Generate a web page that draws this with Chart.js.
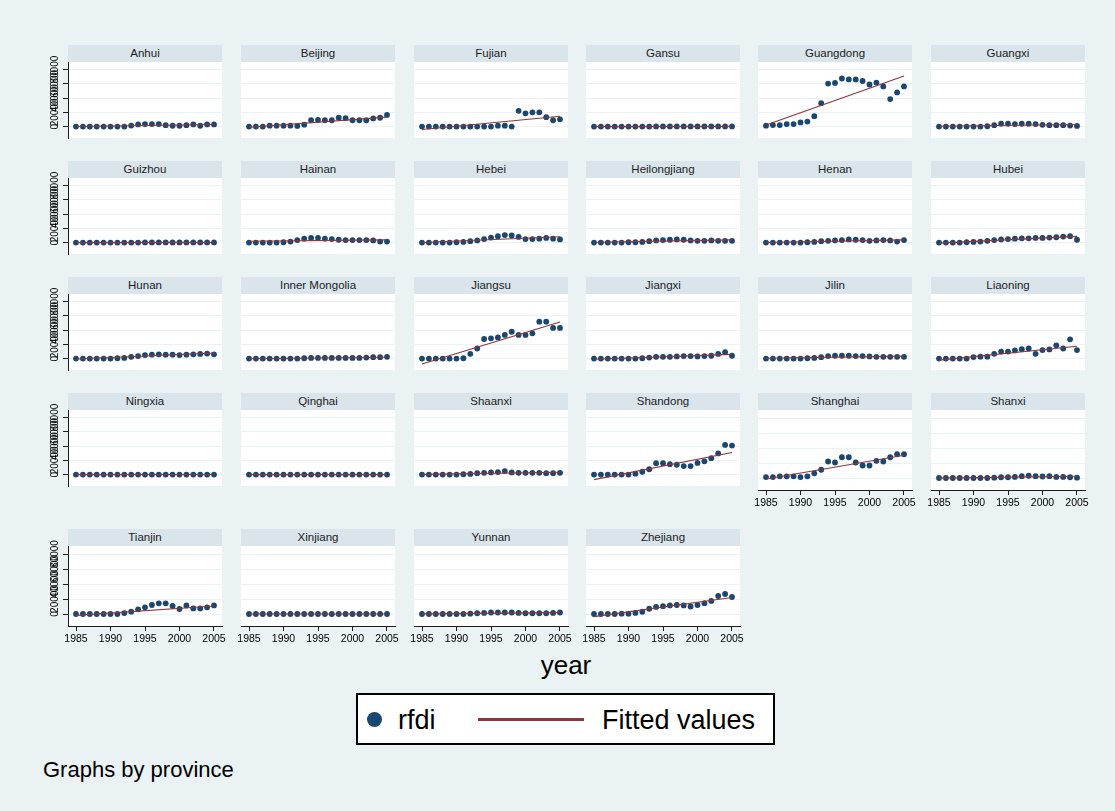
<!DOCTYPE html>
<html>
<head>
<meta charset="utf-8">
<title>rfdi by province, 1985-2005</title>
<script src="https://cdn.jsdelivr.net/npm/chart.js@4/dist/chart.umd.min.js"></script>
<style>
  html, body { margin: 0; padding: 0; }
  body {
    width: 1115px; height: 811px; position: relative; overflow: hidden;
    background: #eaf2f3;
    font-family: "Liberation Sans", Arial, sans-serif;
  }
  .strip {
    position: absolute; height: 17px; background: #d9e5eb; color: #1c1c1c;
    font-size: 11.5px; line-height: 17px; text-align: center; white-space: nowrap;
  }
  canvas { position: absolute; }
  #xtitle { position: absolute; left: 466px; width: 200px; top: 652px; text-align: center;
            font-size: 26px; line-height: 26px; color: #000; }
  #legend { position: absolute; left: 356px; top: 693px; width: 419px; height: 52px;
            box-sizing: border-box; border: 2px solid #000; background: #fff; }
  .lg-dot { position: absolute; left: 367px; top: 712px; width: 15px; height: 15px;
            border-radius: 50%; background: #1a476f; }
  .lg-line { position: absolute; left: 478px; top: 718px; width: 106px; height: 2.5px; background: #90353b; }
  .lg-text { position: absolute; top: 707px; font-size: 27px; line-height: 27px; color: #000; white-space: nowrap; }
  #note { position: absolute; left: 43px; top: 759px; font-size: 22px; line-height: 22px; color: #000; }
</style>
</head>
<body>

<div id="xtitle">year</div>
<div id="legend"></div>
<div class="lg-dot"></div>
<div class="lg-text" style="left:398px">rfdi</div>
<div class="lg-line"></div>
<div class="lg-text" style="left:602px">Fitted values</div>
<div id="note">Graphs by province</div>

<script>
// ---- data -------------------------------------------------------------
const years = [1985, 1986, 1987, 1988, 1989, 1990, 1991, 1992, 1993, 1994, 1995,
               1996, 1997, 1998, 1999, 2000, 2001, 2002, 2003, 2004, 2005];

const provinces = ["Anhui", "Beijing", "Fujian", "Gansu", "Guangdong", "Guangxi",
                   "Guizhou", "Hainan", "Hebei", "Heilongjiang", "Henan", "Hubei",
                   "Hunan", "Inner Mongolia", "Jiangsu", "Jiangxi", "Jilin", "Liaoning",
                   "Ningxia", "Qinghai", "Shaanxi", "Shandong", "Shanghai", "Shanxi",
                   "Tianjin", "Xinjiang", "Yunnan", "Zhejiang"];

const rfdiAnhui        = [0, 0, 0, 0, 0, 0, 0, 0, 1500, 3000, 3500, 3500, 3500, 2000, 1200, 1200, 2000, 3000, 1200, 3000, 3000];
const rfdiBeijing      = [0, 0, 0, 1300, 1300, 1300, 1300, 900, 2700, 8900, 9300, 8900, 8900, 12400, 11900, 8900, 8900, 8900, 11500, 12400, 16400];
const rfdiFujian       = [0, 0, 0, 0, 0, 0, 0, 0, 0, 0, 0, 1300, 1300, 0, 22200, 18600, 20000, 20000, 13300, 8900, 10200];
const rfdiGansu        = [0, 0, 0, 0, 0, 0, 0, 0, 0, 200, 300, 300, 300, 300, 200, 200, 200, 200, 200, 200, 300];
const rfdiGuangdong    = [1300, 2200, 2200, 3500, 3500, 5800, 7100, 14700, 32900, 60400, 61300, 67500, 66200, 66200, 64000, 59100, 61800, 56400, 38600, 48000, 56400];
const rfdiGuangxi      = [0, 0, 0, 0, 0, 0, 0, 500, 2000, 4000, 4000, 3500, 4000, 4000, 3500, 2500, 2000, 2000, 2000, 1500, 1000];
const rfdiGuizhou      = [0, 0, 0, 0, 0, 0, 0, 0, 0, 0, 200, 200, 200, 200, 200, 200, 200, 200, 200, 300, 300];
const rfdiHainan       = [0, 0, 0, 0, 0, 500, 1500, 3500, 5500, 6500, 6500, 5500, 5000, 4000, 3500, 3500, 3500, 3500, 3000, 1500, 1500];
const rfdiHebei        = [0, 0, 0, 0, 0, 500, 1000, 2000, 3000, 5000, 7000, 9000, 10500, 10000, 8000, 5000, 5000, 5500, 6500, 5500, 4500];
const rfdiHeilongjiang = [0, 0, 0, 0, 0, 500, 500, 1000, 2000, 3000, 3500, 4000, 4500, 4000, 3000, 2500, 2500, 3000, 2500, 2500, 2500];
const rfdiHenan        = [0, 0, 0, 0, 0, 0, 500, 1000, 2000, 2500, 3000, 3500, 4500, 4000, 3500, 2500, 3000, 3500, 3000, 1500, 3500];
const rfdiHubei        = [0, 0, 0, 0, 500, 1000, 1500, 2500, 3500, 4500, 5000, 5500, 6000, 6000, 6500, 6500, 7000, 7500, 8500, 9000, 4000];
const rfdiHunan        = [0, 0, 0, 0, 0, 0, 500, 1000, 2500, 3500, 5000, 5500, 6000, 5500, 5500, 5000, 5500, 6000, 6500, 7000, 6000];
const rfdiInnerMongolia= [0, 0, 0, 0, 0, 0, 0, 0, 500, 1000, 1000, 1000, 1000, 1000, 1000, 1000, 1000, 1500, 2000, 2000, 2500];
const rfdiJiangsu      = [0, 0, 0, 0, 0, 0, 500, 6700, 14200, 27500, 28400, 29700, 33300, 37700, 33300, 33300, 35500, 51900, 51900, 43100, 43100];
const rfdiJiangxi      = [0, 0, 0, 0, 0, 0, 0, 500, 1500, 2500, 2500, 2500, 3000, 3500, 3500, 3000, 3500, 4000, 6500, 9000, 4000];
const rfdiJilin        = [0, 0, 0, 0, 0, 0, 500, 1000, 2000, 3500, 4000, 4000, 4000, 3500, 3500, 3000, 2500, 2500, 2500, 2500, 2500];
const rfdiLiaoning     = [0, 0, 0, 0, 0, 2200, 2700, 2700, 6700, 9800, 9800, 11500, 13300, 14200, 6700, 12000, 12900, 18600, 14200, 27100, 12000];
const rfdiNingxia      = [0, 0, 0, 0, 0, 0, 0, 0, 0, 0, 0, 0, 0, 0, 0, 0, 0, 100, 100, 100, 100];
const rfdiQinghai      = [0, 0, 0, 0, 0, 0, 0, 0, 0, 0, 0, 0, 0, 0, 0, 0, 0, 0, 0, 0, 0];
const rfdiShaanxi      = [0, 0, 0, 0, 0, 0, 500, 1000, 2000, 2500, 3000, 3500, 5000, 3000, 2500, 2500, 2500, 2500, 2000, 2000, 2500];
const rfdiShandong     = [0, 0, 0, 0, 0, 0, 1300, 4000, 7500, 16000, 16000, 14700, 13800, 12000, 12000, 16400, 18600, 23100, 29700, 41700, 40800];
const rfdiShanghai     = [1300, 1300, 2200, 2200, 2200, 1300, 2200, 6200, 11000, 22000, 20700, 27700, 27700, 20700, 16700, 16700, 22900, 22000, 27700, 31700, 31700];
const rfdiShanxi       = [0, 0, 0, 0, 0, 0, 0, 0, 500, 1000, 1000, 1500, 2500, 3000, 2500, 2000, 2500, 1500, 1500, 1000, 500];
const rfdiTianjin      = [0, 0, 0, 0, 0, 0, 0, 1300, 3100, 6200, 8900, 12000, 14200, 14200, 10700, 6700, 11500, 7500, 7500, 8900, 11500];
const rfdiXinjiang     = [0, 0, 0, 0, 0, 0, 0, 0, 0, 0, 0, 0, 0, 0, 0, 0, 0, 0, 0, 0, 0];
const rfdiYunnan       = [0, 0, 0, 0, 0, 0, 0, 500, 1000, 1500, 2000, 2000, 2000, 2000, 1500, 1000, 1000, 1000, 1000, 1500, 2000];
const rfdiZhejiang     = [0, 0, 0, 0, 500, 500, 1500, 3000, 7000, 9500, 10500, 11500, 12000, 11500, 10000, 12000, 14500, 17500, 24000, 26700, 22700];

// fitted straight line per province: value at the first and at the last year
const fitAt1985 = [200, -900, -4000, 0, 2200, 600, 0, 1800, 200, 400, 200, -700, -600, -300,
                   -7500, -1000, 600, -2200, 0, 0, 300, -7100, -1300, -200, -1800, 0, 200, -3500];
const fitAt2005 = [2900, 13300, 14600, 300, 71000, 3000, 300, 3800, 8200, 3800, 3800, 8800, 7800, 2000,
                   51500, 6000, 3500, 17300, 100, 0, 3300, 31100, 30400, 2400, 10700, 0, 1800, 22000];

const xTickValues = [1985, 1990, 1995, 2000, 2005];
const yTickValues = [0, 20000, 40000, 60000, 80000];

const rfdiByProvince = [rfdiAnhui, rfdiBeijing, rfdiFujian, rfdiGansu, rfdiGuangdong, rfdiGuangxi,
  rfdiGuizhou, rfdiHainan, rfdiHebei, rfdiHeilongjiang, rfdiHenan, rfdiHubei,
  rfdiHunan, rfdiInnerMongolia, rfdiJiangsu, rfdiJiangxi, rfdiJilin, rfdiLiaoning,
  rfdiNingxia, rfdiQinghai, rfdiShaanxi, rfdiShandong, rfdiShanghai, rfdiShanxi,
  rfdiTianjin, rfdiXinjiang, rfdiYunnan, rfdiZhejiang];

// ---- layout -----------------------------------------------------------
const FONT = "'Liberation Sans', Arial, sans-serif";
const NAVY = "#1a476f", MAROON = "#90353b", GRID = "#eaf2f3", AXIS = "#1a1a1a";
const PLOT_W = 154, PLOT_H = 80, STRIP_H = 17, AXIS_W = 30, AXIS_H = 26, M = 8, T = 12;
const colLeft = [68, 241, 414, 586, 758, 931];
const rowTop = [45, 161, 277, 393, 529];
const X_MIN = 1983.84, X_MAX = 2006.16, Y_MIN = -16000, Y_MAX = 90700;

// white plot region behind the marks
const plotBackground = {
  id: "plotBackground",
  beforeDraw(chart) {
    const { ctx, chartArea: a } = chart;
    ctx.save();
    ctx.fillStyle = "#ffffff";
    ctx.fillRect(a.left, a.top, a.right - a.left, a.bottom - a.top);
    ctx.restore();
  }
};

provinces.forEach((name, i) => {
  const col = i % 6, row = Math.floor(i / 6);
  const hasY = col === 0;
  const hasX = i + 6 >= provinces.length;
  const left = colLeft[col], top = rowTop[row];

  const strip = document.createElement("div");
  strip.className = "strip";
  strip.style.left = left + "px";
  strip.style.top = top + "px";
  strip.style.width = PLOT_W + "px";
  strip.textContent = name;
  document.body.appendChild(strip);

  // canvas reaches a little above the plot so the rotated y labels are not cut
  const cw = PLOT_W + 2 * M + (hasY ? AXIS_W : 0);
  const ch = T + PLOT_H + (hasX ? AXIS_H : 0);
  const canvas = document.createElement("canvas");
  canvas.width = cw; canvas.height = ch;
  canvas.style.width = cw + "px"; canvas.style.height = ch + "px";
  canvas.style.left = (left - M - (hasY ? AXIS_W : 0)) + "px";
  canvas.style.top = (top + STRIP_H - T) + "px";
  document.body.appendChild(canvas);

  const values = rfdiByProvince[i];

  new Chart(canvas, {
    type: "scatter",
    data: {
      datasets: [
        {
          label: "Fitted values",
          type: "line",
          data: [{ x: years[0], y: fitAt1985[i] }, { x: years[years.length - 1], y: fitAt2005[i] }],
          borderColor: MAROON, borderWidth: 1.1, pointRadius: 0, fill: false, tension: 0
        },
        {
          label: "rfdi",
          data: years.map((yr, k) => ({ x: yr, y: values[k] })),
          backgroundColor: NAVY, borderColor: NAVY, pointRadius: 2.9, pointBorderWidth: 0
        }
      ]
    },
    options: {
      responsive: false, animation: false, devicePixelRatio: 1,
      layout: { padding: { left: M, right: M, top: T, bottom: 0 } },
      plugins: { legend: { display: false }, tooltip: { enabled: false } },
      scales: {
        x: {
          type: "linear", min: X_MIN, max: X_MAX, display: hasX,
          afterBuildTicks: s => { s.ticks = xTickValues.map(v => ({ value: v })); },
          afterFit: s => { s.height = hasX ? AXIS_H : 0; s.paddingLeft = 0; s.paddingRight = 0; },
          grid: { drawOnChartArea: false, drawTicks: true, tickLength: 5, tickColor: AXIS, tickWidth: 1 },
          border: { display: true, color: AXIS, width: 1 },
          ticks: { font: { size: 10.5, family: FONT }, color: "#000", padding: 2,
                   maxRotation: 0, autoSkip: false, callback: v => String(v) }
        },
        y: {
          type: "linear", min: Y_MIN, max: Y_MAX,
          afterBuildTicks: s => { s.ticks = yTickValues.map(v => ({ value: v })); },
          afterFit: s => { s.width = hasY ? AXIS_W : 0; s.paddingTop = 0; s.paddingBottom = 0; },
          grid: { color: GRID, lineWidth: 1, drawTicks: hasY, tickLength: 5, tickColor: AXIS, tickWidth: 1 },
          border: { display: hasY, color: AXIS, width: 1 },
          ticks: { display: hasY, minRotation: 90, maxRotation: 90, crossAlign: "center",
                   padding: -6, autoSkip: false, font: { size: 10, family: FONT }, color: "#000",
                   callback: v => String(v) }
        }
      }
    },
    plugins: [plotBackground]
  });
});
</script>
</body>
</html>
